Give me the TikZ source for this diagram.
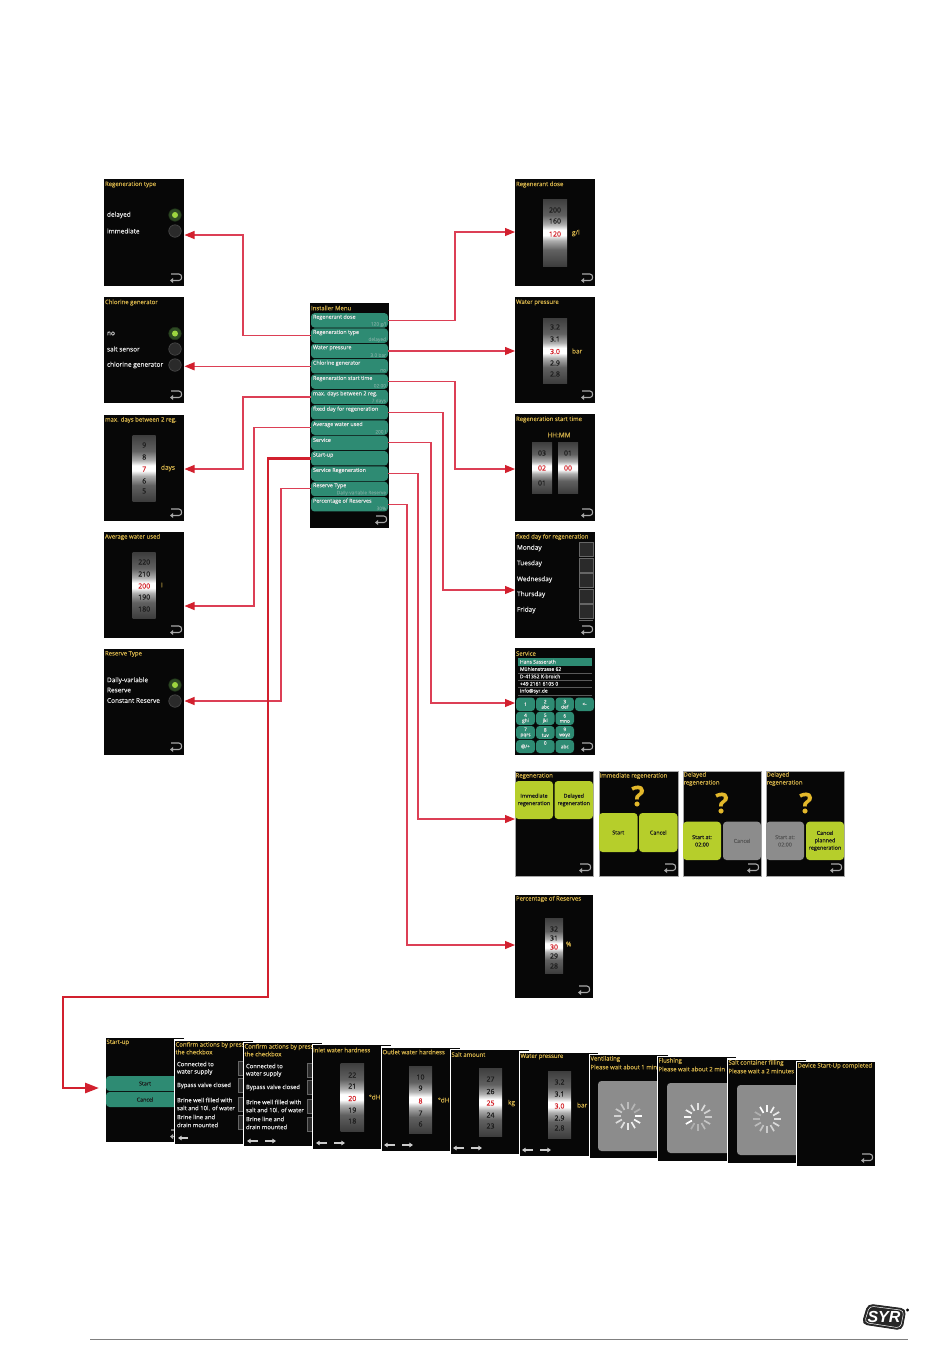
\documentclass[tikz,border=0pt]{standalone}
\usepackage{fontspec}
\setmainfont[FakeBold=0.25]{Open Sans}
\newfontfamily\logofont{Liberation Sans}
\usetikzlibrary{arrows.meta,calc}
\definecolor{scrbg}{HTML}{070707}
\definecolor{ttl}{HTML}{D2B04A}
\definecolor{teal}{HTML}{2E8B73}
\definecolor{lime}{HTML}{B6CE2B}
\definecolor{gbox}{HTML}{8C8C8C}
\definecolor{conn}{HTML}{DC3F55}
\definecolor{connd}{HTML}{D2202E}
\definecolor{wtxt}{HTML}{E4E4E4}
\definecolor{wred}{HTML}{D2232A}
\definecolor{wdark}{HTML}{1C1C1C}
\definecolor{wdim}{HTML}{1E1E1E}
\definecolor{valt}{HTML}{6AA596}
\definecolor{chk}{HTML}{2A2A2A}
\definecolor{icon}{HTML}{A8A8A8}
\definecolor{qm}{HTML}{E3B82B}
\definecolor{rring}{HTML}{2E4A24}
\definecolor{rdot}{HTML}{9CD63F}
\pgfdeclareverticalshading{wheelsh}{100bp}{color(0bp)=(black!76); color(25bp)=(black!76); color(37bp)=(black!62); color(44bp)=(black!32); color(48bp)=(white); color(52bp)=(white); color(56bp)=(black!32); color(63bp)=(black!62); color(75bp)=(black!76); color(100bp)=(black!76)}
\newcounter{tx}
\tikzset{
  screenbox/.style={fill=scrbg,draw=none,inner sep=0,outer sep=0},
  txt/.style={inner sep=0,outer sep=0,anchor=west,text=wtxt,font=\fontsize{6.5}{7.6}\selectfont,align=left},
  ttxt/.style={txt,text=ttl,font=\fontsize{6}{7}\selectfont},
  unit/.style={txt,text=ttl,font=\fontsize{6.5}{7}\selectfont},
  btn/.style={rounded corners=3.5pt,inner sep=0,outer sep=0,align=center,text=wdark,font=\fontsize{5.4}{7.4}\selectfont},
  limebtn/.style={btn,fill=lime},
  greybtn/.style={btn,fill=gbox,text=black!65},
  tealbtn/.style={btn,fill=teal,text=wtxt,font=\fontsize{4.8}{5.2}\selectfont},
  wnum/.style={inner sep=0,outer sep=0,font=\fontsize{7}{7}\selectfont},
  radio/.style={circle,minimum size=12.5pt,inner sep=0,outer sep=0,fill=chk,draw=black!70,line width=.6pt},
  radioon/.style={radio,fill=rring,draw=rring!70!black},
  line/.style={draw=conn,line width=1.1pt,-{Triangle[length=10pt,width=8pt,color=connd]}},
  fat/.style={draw=connd,line width=2.6pt,-{Triangle[length=14pt,width=10pt]}},
  chkbox/.style={fill=chk,draw=black!60,line width=.5pt,inner sep=0,outer sep=0},
  navarr/.style={draw=icon!60!white,line width=1.1pt,-{Triangle[length=3.6pt,width=4.4pt]}},
  smalltxt/.style={txt,font=\fontsize{5}{6}\selectfont},
  conftxt/.style={txt,font=\fontsize{5.9}{7}\selectfont},
}
% \bx[style]{name}{x1}{y1}{x2}{y2}{text}
\newcommand\bx[7][]{\node[#1,minimum width={(#5)-(#3)},minimum height={(#6)-(#4)}] (#2) at ({((#3)+(#5))/2},{((#4)+(#6))/2}) {#7};}
\newcommand\tx[4]{\stepcounter{tx}\node[#1] (t\arabic{tx}) at (#2,#3) {#4};}
\newcommand\backicon[2]{%
  \begin{scope}[shift={(#1,#2)}]
    \draw[icon,line width=1.1pt,-{Triangle[length=3.2pt,width=5pt]}] (-12,-11) -- (-4,-11) .. controls (-0.5,-11) and (-0.5,-4.5) .. (-4,-4.5) -- (-13,-4.5);
  \end{scope}}
\newcommand\whl[4]{\path[shading=wheelsh] (#1,#2) rectangle (#3,#4);}
\newcommand\wrows[6]{%
  \tx{wnum,text=wdim}{#1}{#2}{\ta}\tx{wnum,text=wdark}{#1}{#3}{\tb}\tx{wnum,text=wred}{#1}{#4}{\tc}\tx{wnum,text=wdark}{#1}{#5}{\td}\tx{wnum,text=wdim}{#1}{#6}{\te}}
\newcommand\setrows[5]{\def\ta{#1}\def\tb{#2}\def\tc{#3}\def\td{#4}\def\te{#5}}
\newcommand\spinner[3]{%
  \foreach \k in {0,...,11}{
    \pgfmathsetmacro\shv{int(30+70*(1-mod(\k+#3,12)/11))}
    \colorlet{spc}{white!\shv!gbox}
    \draw[draw=spc,line width=1.7pt] ($(#1,#2)+(\k*30:7)$) -- ($(#1,#2)+(\k*30:14)$);
  }}
\begin{document}
\begin{tikzpicture}[x=1pt,y=-1pt]
\useasboundingbox (0,0) rectangle (950,1369);
\fill[white] (0,0) rectangle (950,1369);

%% ---------- Installer menu
\bx[screenbox]{menu}{310}{303}{389}{528}{}
\tx{ttxt}{311}{308}{Installer Menu}
\newcommand\mi[3]{%
  \pgfmathsetmacro\cy{320.3+15.33*(#1-1)}
  \bx[btn,fill=teal]{m#1}{311}{\cy-7.2}{388}{\cy+7.2}{}
  \tx{txt,font=\fontsize{5.4}{6}\selectfont}{313}{\cy-3}{#2}
  \tx{txt,anchor=east,text=valt,font=\fontsize{4.8}{5}\selectfont}{386}{\cy+4.1}{#3}}
\mi{1}{Regenerant dose}{120 g/l}
\mi{2}{Regeneration type}{delayed}
\mi{3}{Water pressure}{3.0 bar}
\mi{4}{Chlorine generator}{no}
\mi{5}{Regeneration start time}{02:00}
\mi{6}{max. days between 2 reg.}{7 days}
\mi{7}{fixed day for regeneration}{}
\mi{8}{Average water used}{200 l}
\mi{9}{Service}{}
\mi{10}{Start-up}{}
\mi{11}{Service Regeneration}{}
\mi{12}{Reserve Type}{Daily-variable Reserve}
\mi{13}{Percentage of Reserves}{30\%}
\backicon{388}{527}

%% ---------- left column
\bx[screenbox]{sType}{104}{179}{184}{286}{}
\tx{ttxt}{105}{184.5}{Regeneration type}
\tx{txt}{107}{215}{delayed}
\tx{txt}{107}{231}{immediate}
\node[radioon] (r1) at (175,215) {}; \fill[rdot] (r1) circle (3);
\node[radio] (r2) at (175,231) {};
\backicon{183}{285}

\bx[screenbox]{sChl}{104}{297}{184}{403}{}
\tx{ttxt}{105}{302.5}{Chlorine generator}
\tx{txt}{107}{333.5}{no}
\tx{txt}{107}{349}{salt sensor}
\tx{txt}{107}{365}{chlorine generator}
\node[radioon] (r3) at (175,333.5) {}; \fill[rdot] (r3) circle (3);
\node[radio] (r4) at (175,349) {};
\node[radio] (r5) at (175,365) {};
\backicon{183}{402}

\bx[screenbox]{sDays}{104}{415}{184}{521}{}
\tx{ttxt}{105}{420}{max. days between 2 reg.}
\whl{132.7}{435}{155.7}{501}
\setrows{9}{8}{7}{6}{5}
\wrows{144.2}{445}{457}{469}{481}{491}
\tx{unit}{161}{468}{days}
\backicon{183}{520}

\bx[screenbox]{sAvg}{104}{532}{184}{638}{}
\tx{ttxt}{105}{537}{Average water used}
\whl{132.7}{552.7}{155.7}{618}
\setrows{220}{210}{200}{190}{180}
\wrows{144.2}{562}{574}{586}{597}{609}
\tx{unit}{161}{585}{l}
\backicon{183}{637}

\bx[screenbox]{sRes}{104}{649}{184}{755}{}
\tx{ttxt}{105}{654}{Reserve Type}
\tx{txt}{107}{680.5}{Daily-variable}
\tx{txt}{107}{690}{Reserve}
\tx{txt}{107}{700.5}{Constant Reserve}
\node[radioon] (r6) at (175,685) {}; \fill[rdot] (r6) circle (3);
\node[radio] (r7) at (175,701) {};
\backicon{183}{754}

%% ---------- right column
\bx[screenbox]{sDose}{515}{179}{595}{286}{}
\tx{ttxt}{516}{184.5}{Regenerant dose}
\whl{543}{199}{567}{266}
\tx{wnum,text=wdim}{555}{210}{200}
\tx{wnum,text=wdark}{555}{221}{160}
\tx{wnum,text=wred}{555}{234}{120}
\tx{unit}{572}{233}{g/l}
\backicon{594}{285}

\bx[screenbox]{sPress}{515}{297}{595}{403}{}
\tx{ttxt}{516}{302.5}{Water pressure}
\whl{543}{318}{567}{383}
\setrows{3.2}{3.1}{3.0}{2.9}{2.8}
\wrows{555}{327}{339}{351.5}{363}{374}
\tx{unit}{572}{351}{bar}
\backicon{594}{402}

\bx[screenbox]{sStart}{515}{414}{595}{521}{}
\tx{ttxt}{516}{419.5}{Regeneration start time}
\tx{txt,anchor=center,text=ttl}{559}{435}{HH:MM}
\whl{532}{442}{552}{493}
\whl{558}{442}{578}{493}
\tx{wnum,text=wdim}{542}{453}{03}
\tx{wnum,text=wred}{542}{468}{02}
\tx{wnum,text=wdim}{542}{483}{01}
\tx{wnum,text=wdim}{568}{453}{01}
\tx{wnum,text=wred}{568}{468}{00}
\backicon{594}{520}

\bx[screenbox]{sFix}{515}{532}{595}{638}{}
\tx{ttxt}{516}{537}{fixed day for regeneration}
\tx{txt}{517}{548}{Monday}
\tx{txt}{517}{563.5}{Tuesday}
\tx{txt}{517}{579.5}{Wednesday}
\tx{txt}{517}{594.5}{Thursday}
\tx{txt}{517}{610}{Friday}
\bx[chkbox]{c1}{579}{542}{593}{556}{}
\bx[chkbox]{c2}{579}{558}{593}{572}{}
\bx[chkbox]{c3}{579}{573}{593}{587}{}
\bx[chkbox]{c4}{579}{589}{593}{603}{}
\bx[chkbox]{c5}{579}{604}{593}{618}{}
\draw[black!60,line width=.5pt] (579,620.5) -- (593,620.5);
\backicon{594}{637}

\bx[screenbox]{sServ}{515}{648}{595}{755}{}
\tx{ttxt}{516}{653.5}{Service}
\bx[btn,fill=teal,rounded corners=0pt]{servh}{518}{658}{592}{665.5}{}
\tx{smalltxt}{520}{661.7}{Hans Sasserath}
\tx{smalltxt}{520}{669}{Mühlenstrasse 62}
\tx{smalltxt}{520}{676.4}{D-41352 K-broich}
\tx{smalltxt}{520}{683.8}{+49 2161 6105 0}
\tx{smalltxt}{520}{691.2}{info@syr.de}
\foreach \yy in {672.9,680.2,687.6,695.3}{\draw[black!65,line width=.35pt] (518,\yy) -- (592,\yy);}
\bx[tealbtn]{k1}{516}{697.5}{535}{711}{1}
\bx[tealbtn]{k2}{536}{697.5}{554.5}{711}{2\\abc}
\bx[tealbtn]{k3}{555.5}{697.5}{574}{711}{3\\def}
\bx[tealbtn]{kb}{575}{697.5}{594}{711}{<-}
\bx[tealbtn]{k4}{516}{711.8}{535}{725}{4\\ghi}
\bx[tealbtn]{k5}{536}{711.8}{554.5}{725}{5\\jkl}
\bx[tealbtn]{k6}{555.5}{711.8}{574}{725}{6\\mno}
\bx[tealbtn]{k7}{516}{726}{535}{739}{7\\pqrs}
\bx[tealbtn]{k8}{536}{726}{554.5}{739}{8\\tuv}
\bx[tealbtn]{k9}{555.5}{726}{574}{739}{9\\wxyz}
\bx[tealbtn]{ka}{516}{740}{535}{753}{@/+}
\bx[tealbtn]{k0}{536}{740}{554.5}{753}{0\\[2pt]\mbox{}}
\bx[tealbtn]{kc}{555.5}{740}{574}{753}{abc}
\backicon{594}{754}

%% ---------- regeneration row
\bx[screenbox,draw=black!35,line width=.3pt]{sReg}{515}{771}{593}{876}{}
\tx{ttxt}{515.5}{776}{Regeneration}
\bx[limebtn]{rg1}{515}{781}{553}{819}{Immediate\\regeneration}
\bx[limebtn]{rg2}{554.5}{781}{593}{819}{Delayed\\regeneration}
\backicon{592}{875}

\bx[screenbox,draw=black!35,line width=.3pt]{sImm}{599}{771}{678}{876}{}
\tx{ttxt}{599.5}{776}{Immediate regeneration}
\tx{txt,anchor=center,text=qm,font=\fontsize{28}{28}\bfseries\selectfont}{638}{796}{?}
\bx[limebtn]{im1}{599}{813}{637.5}{852}{Start}
\bx[limebtn]{im2}{639}{813}{677.5}{852}{Cancel}
\backicon{677}{875}

\bx[screenbox,draw=black!35,line width=.3pt]{sDel}{683}{771}{761}{876}{}
\tx{ttxt}{683.5}{775}{Delayed}
\tx{ttxt}{683.5}{783}{regeneration}
\tx{txt,anchor=center,text=qm,font=\fontsize{28}{28}\bfseries\selectfont}{722}{803}{?}
\bx[limebtn]{de1}{683}{821.7}{721}{860}{Start at:\\02:00}
\bx[greybtn]{de2}{723}{821.7}{761}{860}{Cancel}
\backicon{760}{875}

\bx[screenbox,draw=black!35,line width=.3pt]{sDel2}{766}{771}{844}{876}{}
\tx{ttxt}{766.5}{775}{Delayed}
\tx{ttxt}{766.5}{783}{regeneration}
\tx{txt,anchor=center,text=qm,font=\fontsize{28}{28}\bfseries\selectfont}{806}{803}{?}
\bx[greybtn]{dl1}{766}{821.7}{804}{860}{Start at:\\02:00}
\bx[limebtn]{dl2}{806}{821.7}{844}{860}{Cancel\\planned\\regeneration}
\backicon{843}{875}

\bx[screenbox]{sPerc}{515}{895}{593}{998}{}
\tx{ttxt}{516}{899}{Percentage of Reserves}
\whl{545}{918}{563}{973}
\setrows{32}{31}{30}{29}{28}
\wrows{554}{929}{938}{947}{956}{966}
\tx{unit}{566}{944}{\%}
\backicon{591}{997}

%% ---------- bottom row
\newcommand\bscr[6]{%
  \fill[white] (#2-.8,#5+.9) rectangle (#2+11,#3);
  \fill[white] (#2-.8,#3) rectangle (#2,#3+#4);
  \bx[screenbox]{#1}{#2}{#3}{#2+78}{#3+#4}{#6}
}
\bx[screenbox]{b0}{106}{1038}{184}{1142}{}
\tx{ttxt}{106.5}{1042.5}{Start-up}
\bx[btn,fill=teal]{b0a}{106}{1076}{184}{1091}{Start}
\bx[btn,fill=teal]{b0b}{106}{1092}{184}{1107}{Cancel}
\backicon{183}{1141}

\newcommand\confirm[4]{%
  \tx{ttxt}{#1+.5}{#2+4}{Confirm actions by pressing}
  \tx{ttxt}{#1+.5}{#2+11}{the checkbox}
  \tx{conftxt}{#1+2}{#2+23}{Connected to}
  \tx{conftxt}{#1+2}{#2+31}{water supply}
  \tx{conftxt}{#1+2}{#2+44.5}{Bypass valve closed}
  \tx{conftxt}{#1+2}{#2+59}{Brine well filled with}
  \tx{conftxt}{#1+2}{#2+67}{salt and 10l. of water}
  \tx{conftxt}{#1+2}{#2+76}{Brine line and}
  \tx{conftxt}{#1+2}{#2+84}{drain mounted}
  \bx[chkbox]{#3a}{#1+63}{#2+20}{#1+76}{#2+34}{}
  \bx[chkbox]{#3b}{#1+63}{#2+37}{#1+76}{#2+51}{}
  \bx[chkbox]{#3c}{#1+63}{#2+56}{#1+76}{#2+70}{}
  \bx[chkbox]{#3d}{#1+63}{#2+74}{#1+76}{#2+88}{}
  #4}

\bscr{b1}{175}{1041}{103}{1038}{}
\confirm{175}{1041}{cb}{\draw[navarr] (188,1138) -- (178,1138);}

\bscr{b2}{244}{1043}{103}{1041}{}
\confirm{244}{1043}{cc}{\draw[navarr] (258,1141) -- (247,1141); \draw[navarr] (265,1141) -- (276,1141);}

\bscr{b3}{313}{1045}{104}{1043}{}
\tx{ttxt}{313}{1050}{Inlet water hardness}
\whl{340.7}{1063}{364}{1131}
\setrows{22}{21}{20}{19}{18}
\wrows{352.3}{1075}{1086}{1098.5}{1110}{1121}
\tx{unit}{369}{1097}{°dH}
\draw[navarr] (327,1143) -- (316,1143); \draw[navarr] (334,1143) -- (345,1143);

\bscr{b4}{382}{1048}{103}{1045}{}
\tx{ttxt}{382.5}{1052}{Outlet water hardness}
\whl{409}{1066}{432}{1133}
\setrows{10}{9}{8}{7}{6}
\wrows{420.5}{1077}{1088}{1101}{1113}{1124}
\tx{unit}{438}{1100}{°dH}
\draw[navarr] (395,1145) -- (384,1145); \draw[navarr] (402,1145) -- (413,1145);

\bscr{b5}{451}{1050}{104}{1048}{}
\tx{ttxt}{451.5}{1054.5}{Salt amount}
\whl{479}{1068}{502}{1136}
\setrows{27}{26}{25}{24}{23}
\wrows{490.5}{1079}{1091.5}{1103}{1115}{1126}
\tx{unit}{508}{1103}{kg}
\draw[navarr] (464,1148) -- (453,1148); \draw[navarr] (471,1148) -- (482,1148);

\bscr{b6}{520}{1053}{103}{1050}{}
\tx{ttxt}{520.5}{1056.5}{Water pressure}
\whl{548}{1071}{571}{1138}
\setrows{3.2}{3.1}{3.0}{2.9}{2.8}
\wrows{559.5}{1082}{1094}{1106}{1118}{1128}
\tx{unit}{577}{1105}{bar}
\draw[navarr] (533,1150) -- (522,1150); \draw[navarr] (540,1150) -- (551,1150);

\bscr{b7}{590}{1055}{103}{1053}{}
\tx{ttxt}{590.5}{1059}{Ventilating}
\tx{ttxt}{590.5}{1067}{Please wait about 1 min}
\bx[btn,fill=gbox]{g7}{598}{1081}{668}{1151}{}
\spinner{628}{1116}{0}

\bscr{b8}{658}{1057}{104}{1055}{}
\tx{ttxt}{658.5}{1061}{Flushing}
\tx{ttxt}{658.5}{1069}{Please wait about 2 min}
\bx[btn,fill=gbox]{g8}{667}{1083}{737}{1153}{}
\spinner{698}{1117}{7}

\bscr{b9}{728}{1060}{103}{1057}{}
\tx{ttxt}{728.5}{1063}{Salt container filling}
\tx{ttxt}{728.5}{1071}{Please wait a  2 minutes}
\bx[btn,fill=gbox]{g9}{737}{1085}{807}{1155}{}
\spinner{767}{1119}{4}

\bscr{b10}{797}{1062}{104}{1060}{}
\tx{ttxt}{797.5}{1066}{Device Start-Up completed}
\backicon{874}{1165}

%% ---------- connectors
\coordinate (aDose) at (515,232);
\coordinate (aPress) at (515,351);
\coordinate (aStart) at (515,469);
\coordinate (aFix) at (515,590);
\coordinate (aServ) at (515,703);
\coordinate (aReg) at (515,819);
\coordinate (aPerc) at (515,945);
\coordinate (aType) at (184.5,235);
\coordinate (aChl) at (184.5,366);
\coordinate (aDays) at (184.5,469);
\coordinate (aAvg) at (184.5,606);
\coordinate (aRes) at (184.5,701);
\coordinate (aUp) at (99,1088);
\draw[line] (m1.east) -- (m1.east -| 455,0) |- (aDose);
\draw[line] (m3.east) -- (m3.east -| aPress);
\draw[line] (m5.east) -- (m5.east -| 455,0) |- (aStart);
\draw[line] (m7.east) -- (m7.east -| 443,0) |- (aFix);
\draw[line] (m9.east) -- (m9.east -| 431,0) |- (aServ);
\draw[line] (m11.east) -- (m11.east -| 418,0) |- (aReg);
\draw[line] (m13.east) -- (m13.east -| 407,0) |- (aPerc);
\draw[line] (m2.west) -- (m2.west -| 243,0) |- (aType);
\draw[line] (m4.west) -- (m4.west -| aChl);
\draw[line] (m6.west) -- (m6.west -| 243,0) |- (aDays);
\draw[line] (m8.west) -- (m8.west -| 254,0) |- (aAvg);
\draw[line] (m12.west) -- (m12.west -| 281,0) |- (aRes);
\coordinate (upc) at (268,997);
\coordinate (upd) at (63,997);
\draw[fat] (m10.west) -- (m10.west -| upc) -- (upc) -- (upd) |- (aUp);

%% ---------- footer + logo
\draw[black!50,line width=.7pt] (90,1339) -- (908,1339);
\filldraw[fill=black!85,draw=black!85,line width=.8pt,rounded corners=5pt] (868,1304) -- (906,1309) -- (902,1330) -- (862,1324) -- cycle;
\draw[white,line width=.5pt,rounded corners=4pt] (869.5,1306) -- (904,1310.5) -- (900.5,1328) -- (864.5,1322.5) -- cycle;
\tx{inner sep=0,outer sep=0,text=white,font=\logofont\fontsize{16}{16}\bfseries\itshape\selectfont}{884}{1317}{SYR}
\tx{inner sep=0,outer sep=0,text=black,font=\fontsize{3.5}{4}\selectfont}{907.5}{1310}{®}
\end{tikzpicture}
\end{document}
